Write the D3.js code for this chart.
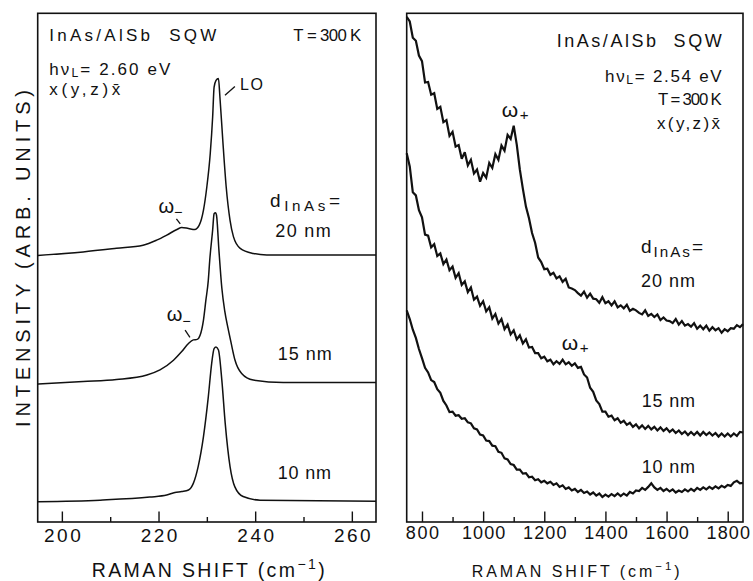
<!DOCTYPE html>
<html><head><meta charset="utf-8">
<script src="https://cdn.jsdelivr.net/npm/d3@7"></script>
<style>
body{margin:0;background:#fff}
svg{display:block;background:#fff}
text{font-family:"Liberation Sans",Arial,Helvetica,sans-serif;fill:#111}
</style></head>
<body><svg id="c" width="753" height="581"></svg>
<script>
// ---------- LEFT PANEL DATA (LO phonon region) ----------
const leftShift20 = [195, 204.4, 211.3, 216.8, 219.6, 221.7, 223.8, 224.8, 226.2, 227.5, 228.4, 229.3, 230.0, 230.7, 231.2, 231.5, 231.9, 232.4, 232.7, 233.3, 234.0, 234.8, 235.5, 236.9, 239.6, 242.4, 265];
const leftInt20   = [52.4, 53.1, 53.8, 54.4, 55.4, 56.4, 57.5, 57.9, 57.7, 57.5, 58.3, 61.3, 65.9, 72.4, 79.6, 85.5, 86.8, 87.2, 83.6, 75.0, 65.9, 59.3, 56.1, 53.8, 52.8, 52.5, 52.5];
const leftShift15 = [195, 204.4, 211.3, 217.6, 220.3, 223.1, 224.8, 226.2, 227.2, 228.0, 228.6, 229.3, 229.8, 230.3, 230.6, 231.2, 231.5, 231.8, 232.0, 232.5, 233.1, 233.7, 234.4, 235.0, 235.8, 237.2, 239.6, 245.8, 265];
const leftInt15   = [27.1, 27.6, 28.0, 28.9, 29.9, 31.8, 33.5, 35.1, 35.8, 35.9, 36.7, 39.7, 43.6, 47.5, 51.5, 57.4, 60.6, 60.8, 60.3, 53.4, 46.0, 41.5, 38.0, 35.3, 31.9, 29.2, 27.9, 27.4, 27.4];
const leftShift10 = [195, 207.9, 218.2, 221.7, 223.4, 224.8, 226.2, 227.2, 228.2, 229.3, 230.3, 231.0, 231.5, 231.9, 232.4, 233.1, 233.8, 234.8, 235.8, 237.5, 241.0, 265];
const leftInt10   = [4.0, 4.3, 4.9, 5.3, 5.8, 6.0, 6.3, 7.6, 10.9, 16.8, 24.6, 31.2, 34.1, 34.4, 33.8, 27.9, 19.4, 10.9, 6.9, 5.0, 4.3, 4.1];

// ---------- RIGHT PANEL DATA (coupled plasmon region) ----------
const rightShift = [750,760,770,780,790,800,810,820,830,840,850,860,870,880,890,900,910,920,930,940,950,960,970,980,990,1000,1010,1020,1030,1040,1050,1060,1070,1080,1090,1100,1110,1120,1130,1140,1150,1160,1170,1180,1190,1200,1210,1220,1230,1240,1250,1260,1270,1280,1290,1300,1310,1320,1330,1340,1350,1360,1370,1380,1390,1400,1410,1420,1430,1440,1450,1460,1470,1480,1490,1500,1510,1520,1530,1540,1550,1560,1570,1580,1590,1600,1610,1620,1630,1640,1650,1660,1670,1680,1690,1700,1710,1720,1730,1740,1750,1760,1770,1780,1790,1800,1810,1820,1830,1840,1850];
const rightInt20 = [99.3, 98.4, 95.2, 94.6, 91.7, 90.6, 86.4, 86.5, 84.0, 84.3,
  81.2, 81.6, 78.6, 79.0, 75.9, 76.7, 73.8, 74.1, 71.4, 72.7,
  70.1, 71.2, 68.5, 69.3, 66.9, 68.6, 67.7, 70.6, 69.6, 72.3,
  71.2, 74.0, 73.0, 76.1, 75.3, 77.9, 74.2, 69.3, 65.5, 62.0,
  59.7, 56.8, 54.9, 52.0, 51.1, 49.7, 49.8, 48.6, 49.0, 47.9,
  48.3, 47.2, 47.8, 46.1, 45.9, 45.6, 45.0, 44.5, 45.3, 44.1,
  44.9, 43.9, 43.8, 43.1, 44.2, 43.0, 43.4, 42.6, 43.4, 42.2,
  42.6, 42.0, 42.7, 41.5, 41.9, 41.6, 41.1, 40.8, 41.6, 40.5,
  40.9, 40.3, 40.8, 39.7, 40.2, 39.6, 39.5, 39.1, 39.9, 38.8,
  39.5, 38.6, 38.9, 38.4, 39.1, 38.0, 38.6, 37.9, 38.6, 37.6,
  38.3, 37.7, 38.1, 37.2, 37.9, 37.5, 38.1, 38.0, 38.7, 38.3,
  38.9];
const rightInt15 = [72.5, 69.9, 64.8, 64.2, 61.3, 59.9, 56.5, 56.3, 54.0, 54.6,
  52.3, 52.8, 50.7, 51.6, 49.5, 50.2, 48.0, 48.9, 46.6, 47.3,
  45.2, 46.1, 43.7, 44.3, 42.5, 43.4, 41.4, 42.2, 40.0, 40.9,
  39.0, 39.9, 37.9, 38.8, 36.9, 37.7, 35.9, 36.7, 35.1, 35.9,
  34.3, 34.4, 33.2, 33.2, 32.2, 32.5, 31.6, 31.9, 31.0, 31.6,
  31.1, 31.9, 31.0, 31.4, 30.7, 31.2, 30.3, 30.5, 29.0, 28.4,
  26.4, 25.6, 23.9, 23.2, 21.7, 21.7, 20.7, 20.9, 20.0, 20.4,
  19.5, 19.9, 19.1, 19.5, 18.7, 19.2, 18.4, 19.0, 18.3, 18.9,
  18.2, 18.7, 18.0, 18.6, 17.9, 18.4, 17.7, 18.2, 17.5, 18.0,
  17.3, 17.8, 17.1, 17.7, 17.1, 17.7, 17.0, 17.7, 17.1, 17.6,
  17.0, 17.5, 16.8, 17.4, 16.8, 17.4, 16.8, 17.4, 16.9, 17.7,
  17.6];
const rightInt10 = [41.6, 39.9, 37.8, 36.2, 34.0, 32.2, 30.3, 29.4, 27.9, 27.5,
  26.1, 25.4, 23.8, 22.9, 21.6, 21.7, 20.9, 21.0, 20.3, 20.4,
  19.6, 19.4, 18.4, 18.2, 17.2, 17.0, 16.0, 15.9, 15.0, 14.9,
  13.8, 13.6, 12.5, 12.3, 11.4, 11.2, 10.3, 10.3, 9.5, 9.6,
  8.8, 8.9, 8.2, 8.4, 7.8, 8.1, 7.6, 7.9, 7.3, 7.6,
  6.9, 7.2, 6.5, 6.8, 6.2, 6.5, 5.9, 6.3, 5.7, 6.0,
  5.4, 5.8, 5.2, 5.6, 4.9, 5.4, 5.0, 5.5, 5.1, 5.6,
  5.1, 5.6, 5.2, 5.9, 5.6, 6.2, 6.1, 6.7, 6.3, 6.9,
  7.6, 6.8, 6.3, 6.7, 6.1, 6.5, 6.0, 6.4, 5.8, 6.2,
  5.9, 6.4, 6.0, 6.5, 6.1, 6.7, 6.3, 6.8, 6.4, 6.9,
  6.5, 7.0, 6.6, 7.1, 6.8, 7.3, 7.1, 7.8, 8.1, 7.6,
  7.7];

// ---------- TICKS ----------
const leftTicks = [200, 220, 240, 260];
const leftMinorTicks = [210, 230, 250];
const rightTicks = [800, 1000, 1200, 1400, 1600, 1800];
const rightMinorTicks = [900, 1100, 1300, 1500, 1700];

// ---------- SCALES ----------
const svg = d3.select('#c');
const xL = d3.scaleLinear().domain([195, 265]).range([37.7, 376]);
const xR = d3.scaleLinear().domain([750, 1850]).range([406.7, 743]);
const y  = d3.scaleLinear().domain([0, 100]).range([522, 13.3]);

function toPts(xs, ys){ return xs.map((v,i)=>[v, ys[i]]); }

// frames
[xL, xR].forEach(sc => {
  svg.append('rect')
    .attr('x', sc.range()[0]).attr('y', y.range()[1])
    .attr('width', sc.range()[1]-sc.range()[0]).attr('height', y.range()[0]-y.range()[1])
    .attr('fill','none').attr('stroke','#111').attr('stroke-width',1.6);
});

function drawAxis(sc, major, minor, size, pad, lens){
  const g = svg.append('g').attr('transform', `translate(0,${y(0)})`);
  g.call(d3.axisBottom(sc).tickValues(major).tickSize(-10.5).tickPadding(pad).tickFormat(d3.format('d')));
  g.select('.domain').remove();
  g.attr('font-size', null).attr('font-family', null);
  g.selectAll('.tick line').attr('stroke','#111').attr('stroke-width',1.4);
  g.selectAll('.tick text').style('font-size', size+'px').attr('fill','#111')
    .attr('textLength', d => lens[String(d).length]).attr('lengthAdjust','spacing');
  const gm = svg.append('g').attr('transform', `translate(0,${y(0)})`);
  gm.call(d3.axisBottom(sc).tickValues(minor).tickSize(-5).tickFormat(''));
  gm.select('.domain').remove();
  gm.selectAll('.tick line').attr('stroke','#111').attr('stroke-width',1.4);
}
drawAxis(xL, leftTicks, leftMinorTicks, 19, 6.3, {3:36.7});
drawAxis(xR, rightTicks, rightMinorTicks, 18, 4.5, {3:33.3, 4:43.5});

// curves
const lineL = d3.line().x(d=>xL(d[0])).y(d=>y(d[1])).curve(d3.curveMonotoneX);
const lineR = d3.line().x(d=>xR(d[0])).y(d=>y(d[1]));
[[leftShift20,leftInt20],[leftShift15,leftInt15],[leftShift10,leftInt10]].forEach(([a,b])=>{
  svg.append('path').attr('d', lineL(toPts(a,b))).attr('fill','none').attr('stroke','#111').attr('stroke-width',1.5).attr('stroke-linejoin','round');
});
[rightInt20, rightInt15, rightInt10].forEach(b=>{
  svg.append('path').attr('d', lineR(toPts(rightShift,b))).attr('fill','none').attr('stroke','#111').attr('stroke-width',2.2).attr('stroke-linejoin','miter').attr('stroke-miterlimit',3);
});

// text helper: parts = strings or [string, 'sub'|'sup']
function label(x, yy, parts, o){
  const t = svg.append('text').attr('x',x).attr('y',yy).style('font-size', o.size+'px');
  if (o.anchor) t.attr('text-anchor', o.anchor);
  if (o.len) t.attr('textLength', o.len).attr('lengthAdjust','spacing');
  if (o.rotate) t.attr('transform', `rotate(${o.rotate},${x},${yy})`);
  let cur = 0;
  parts.forEach(p=>{
    const [s,k] = Array.isArray(p) ? p : [p,'n'];
    const want = k==='sub' ? o.size*(o.subShift!=null?o.subShift:0.28) : k==='sup' ? -o.size*0.42 : 0;
    const ts = t.append('tspan').text(s).attr('dy', want-cur);
    if (k!=='n') ts.style('font-size', (o.size*(o.subScale||0.72))+'px');
    cur = want;
  });
  return t;
}

// axis titles
label(29.5, 258.5, ['INTENSITY (ARB. UNITS)'], {size:20, anchor:'middle', len:337, rotate:-90});
label(91.7, 576.7, ['RAMAN SHIFT (cm', ['\u22121','sup'], ')'], {size:19.5, len:233});
label(471.7, 576.7, ['RAMAN SHIFT (cm', ['\u22121','sup'], ')'], {size:16, len:208});

// left annotations
label(49.3, 40.7, ['InAs/AlSb\u00A0\u00A0SQW'], {size:17, len:167});
label(293.3, 40.7, ['T\u00A0=\u00A0300\u00A0K'], {size:16.8, len:68});
label(49.3, 74.5, ['h\u03BD', ['L','sub'], '=\u00A02.60\u00A0eV'], {size:17, len:121, subShift:0.14});
label(49.3, 95, ['x(y,z)x\u0304'], {size:17, len:71});
label(240, 90, ['LO'], {size:16, len:23});
label(158.5, 213, ['\u03C9', ['\u2212','sub']], {size:20, len:24, subShift:0.22});
label(166.7, 321, ['\u03C9', ['\u2212','sub']], {size:20, len:24, subShift:0.25});
label(270, 206.7, ['d', ['InAs','sub'], '='], {size:19, len:70, subScale:0.8, subShift:0.22});
label(275.3, 237.3, ['20\u00A0nm'], {size:18, len:55.4});
label(277.7, 360, ['15\u00A0nm'], {size:18, len:54});
label(277.7, 479, ['10\u00A0nm'], {size:18, len:53.3});

// leader lines (data coordinates)
const leaders = [[233.75, 83.9, 235.8, 85.6],[223.7, 59.6, 224.5, 58.6],[225.5, 37.7, 226.5, 36.3]];
leaders.forEach(([a,b,c,d])=>{
  svg.append('line').attr('x1',xL(a)).attr('y1',y(b)).attr('x2',xL(c)).attr('y2',y(d)).attr('stroke','#111').attr('stroke-width',1.3);
});

// right annotations
label(556.7, 46.7, ['InAs/AlSb\u00A0\u00A0SQW'], {size:18, len:165});
label(605, 81.7, ['h\u03BD', ['L','sub'], '=\u00A02.54\u00A0eV'], {size:17, len:116.7, subShift:0.14});
label(658, 105, ['T\u00A0=\u00A0300\u00A0K'], {size:16.8, len:63.7});
label(657, 129, ['x(y,z)x\u0304'], {size:17, len:63});
label(501.7, 117, ['\u03C9', ['+','sub']], {size:21, len:27, subShift:0.15});
label(641, 253, ['d', ['InAs','sub'], '='], {size:19, len:62, subScale:0.8, subShift:0.22});
label(641, 287.3, ['20\u00A0nm'], {size:18, len:54});
label(561.7, 350, ['\u03C9', ['+','sub']], {size:21, len:27, subShift:0.15});
label(641.7, 406.7, ['15\u00A0nm'], {size:18, len:53.3});
label(641.7, 472.7, ['10\u00A0nm'], {size:18, len:53.3});
</script></body></html>
